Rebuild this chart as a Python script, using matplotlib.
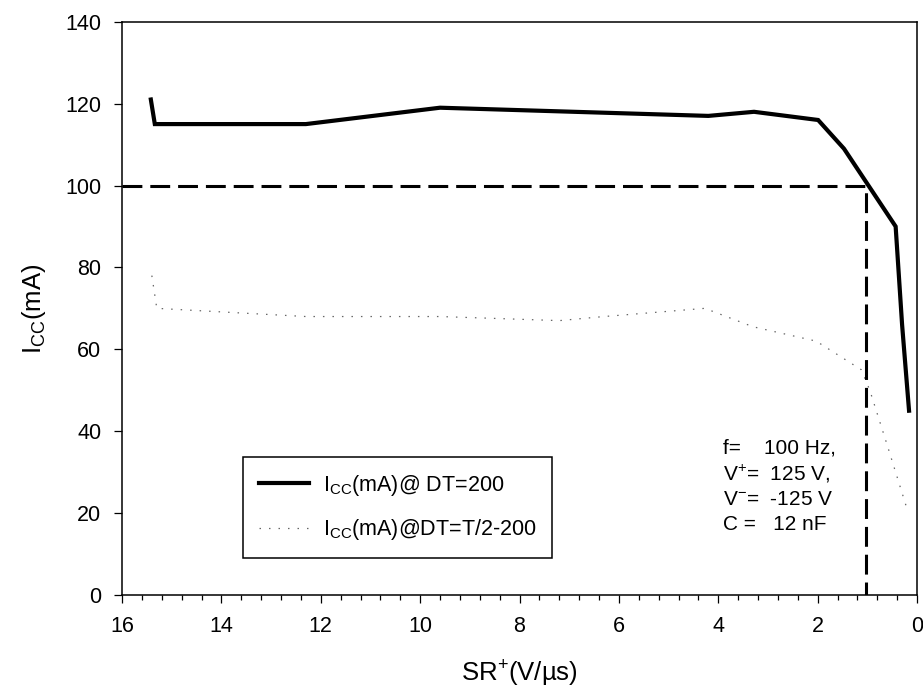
import matplotlib
matplotlib.use("Agg")
import matplotlib.pyplot as plt
from matplotlib.ticker import MultipleLocator

plt.rcParams["font.family"] = ["Liberation Sans", "DejaVu Sans"]
plt.rcParams["mathtext.default"] = "regular"

# slew rate SR+ (V/us) and supply current Icc (mA)
sr_dt200 = [15.42, 15.34, 12.3, 9.6, 4.2, 3.28, 1.99, 1.47, 0.43, 0.30, 0.16]
icc_dt200 = [121, 115, 115, 119, 117, 118, 116, 109, 90, 66, 45]

sr_dt_half = [15.40, 15.30, 12.3, 9.6, 7.2, 6.3, 4.27, 3.3, 2.03, 1.12, 0.95, 0.61, 0.20]
icc_dt_half = [78, 70, 68, 68, 67, 68, 70, 65.5, 62, 55, 50, 37, 21]

# 100 mA limit and the slew rate where it is crossed
limit_sr = [16, 1.02, 1.02]
limit_icc = [100, 100, 0]

fig = plt.figure(figsize=(9.23, 6.94), dpi=100)
ax = fig.add_axes([0.1322, 0.1427, 0.8613, 0.826])

ax.plot(sr_dt200, icc_dt200, color="black", lw=3, solid_joinstyle="miter",
        label="I$_{CC}$(mA)@ DT=200")
ax.plot(sr_dt_half, icc_dt_half, color="0.4", lw=0.9, linestyle=(0, (1.2, 6.4)),
        label="I$_{CC}$(mA)@DT=T/2-200")
ax.plot(limit_sr, limit_icc, color="black", lw=2.2, linestyle=(0, (6.5, 2.6)))

ax.set_xlim(16, 0)
ax.set_ylim(0, 140)
ax.xaxis.set_major_locator(MultipleLocator(2))
ax.xaxis.set_minor_locator(MultipleLocator(0.4))
ax.yaxis.set_major_locator(MultipleLocator(20))

ax.tick_params(which="major", direction="out", length=6, width=0.9, pad=9,
               labelsize=15.5)
ax.tick_params(which="minor", direction="out", length=3.5, width=0.9)
for sp in ax.spines.values():
    sp.set_linewidth(1.1)

ax.set_xlabel("SR$^{+}$(V/µs)", fontsize=18.5, labelpad=16)
ax.set_ylabel("I$_{CC}$(mA)", fontsize=18.5, labelpad=12)

leg = ax.legend(loc="upper left", bbox_to_anchor=(0.152, 0.241), borderaxespad=0,
                fontsize=15.5, handlelength=2.3, handletextpad=0.65,
                labelspacing=0.9, borderpad=0.75, fancybox=False,
                framealpha=1, edgecolor="black")
leg.get_frame().set_linewidth(1.1)

notes = ["f=    100 Hz,", "V$^{+}$=  125 V,", "V$^{-}$=  -125 V", "C =   12 nF"]
for i, s in enumerate(notes):
    ax.text(0.756, 0.2564 - i * 0.0445, s, transform=ax.transAxes,
            fontsize=15, va="center", ha="left")

fig.savefig("out.png", dpi=100)
